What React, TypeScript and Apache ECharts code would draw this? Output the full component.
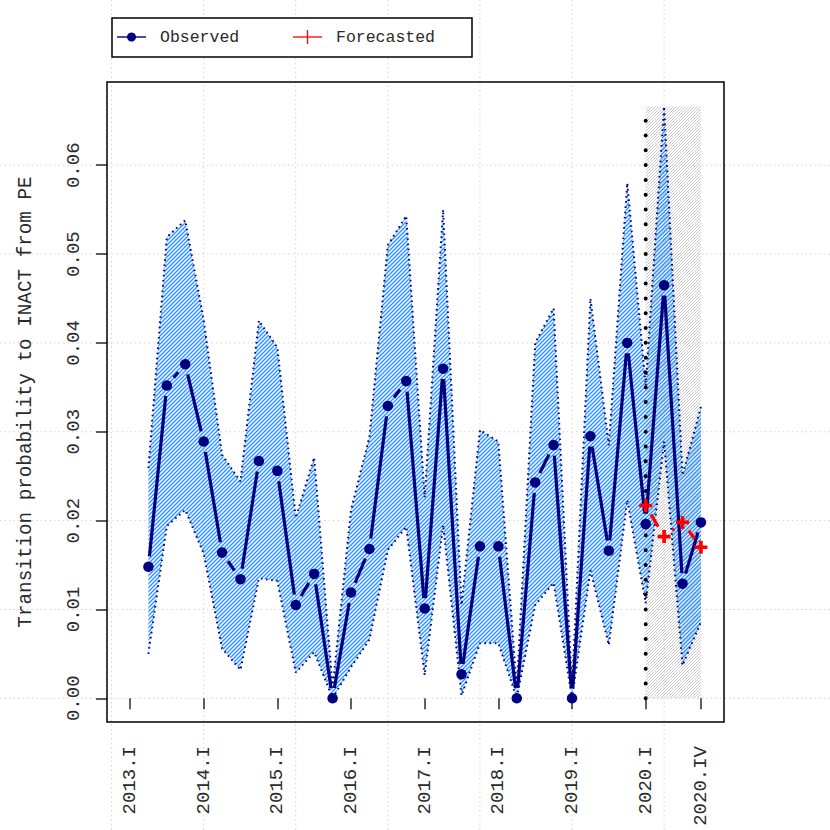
import React, { useEffect, useRef } from "react";
import * as echarts from "echarts";

// ---------- data ----------
const periods = [
  "2013.II", "2013.III", "2013.IV",
  "2014.I", "2014.II", "2014.III", "2014.IV",
  "2015.I", "2015.II", "2015.III", "2015.IV",
  "2016.I", "2016.II", "2016.III", "2016.IV",
  "2017.I", "2017.II", "2017.III", "2017.IV",
  "2018.I", "2018.II", "2018.III", "2018.IV",
  "2019.I", "2019.II", "2019.III", "2019.IV",
  "2020.I", "2020.II", "2020.III", "2020.IV",
];
const observed = [
  0.0148, 0.0352, 0.0376,
  0.0289, 0.0164, 0.0134, 0.0267,
  0.0256, 0.0105, 0.0140, 0.0,
  0.0119, 0.0168, 0.0329, 0.0357,
  0.0101, 0.0371, 0.0027, 0.0171,
  0.0171, 0.0, 0.0243, 0.0285,
  0.0, 0.0295, 0.0166, 0.0400,
  0.0196, 0.0465, 0.0129, 0.0198,
];
const upper = [
  0.0259, 0.0519, 0.0538,
  0.0426, 0.0274, 0.0244, 0.0425,
  0.0395, 0.0203, 0.0271, 0.0012,
  0.0212, 0.0294, 0.0510, 0.0543,
  0.0226, 0.0550, 0.0105, 0.0302,
  0.0289, 0.0012, 0.0400, 0.0439,
  0.0012, 0.0450, 0.0285, 0.0580,
  0.0352, 0.0666, 0.0251, 0.0328,
];
const lower = [
  0.0050, 0.0194, 0.0212,
  0.0163, 0.0056, 0.0032, 0.0135,
  0.0132, 0.0029, 0.0052, 0.0,
  0.0035, 0.0066, 0.0167, 0.0193,
  0.0026, 0.0195, 0.0003, 0.0062,
  0.0062, 0.0, 0.0105, 0.0130,
  0.0, 0.0144, 0.0060, 0.0223,
  0.0107, 0.0289, 0.0037, 0.0086,
];
const forecastPeriods = ["2020.I", "2020.II", "2020.III", "2020.IV"];
const forecast = [0.0217, 0.0182, 0.0198, 0.0170];

const xTickLabels = [
  "2013.I", "2014.I", "2015.I", "2016.I", "2017.I", "2018.I", "2019.I", "2020.I", "2020.IV",
];
const gridPeriods = ["2012.IV", "2014.I", "2015.II", "2016.III", "2017.IV", "2019.I", "2020.II"];
const yTicks = [0, 0.01, 0.02, 0.03, 0.04, 0.05, 0.06];
const forecastRegion = { from: "2020.I", to: "2020.IV" };

const yTitle = "Transition probability to INACT from PE";

// ---------- helpers ----------
const ROMAN = ["I", "II", "III", "IV"];
const toX = (p: string) => {
  const [y, q] = p.split(".");
  return Number(y) + ROMAN.indexOf(q) / 4;
};

const X_MIN = 2012.688;
const X_MAX = 2021.063;
const Y_MIN = -0.00267;
const Y_MAX = 0.06937;

const FONT = "'Liberation Mono', 'DejaVu Sans Mono', monospace";
const NAVY = "#000080";
const RED = "#ff0000";
const TEXT = "#2a2a2a";

function hatch(color: string, size: number, width: number) {
  const c = document.createElement("canvas");
  c.width = size;
  c.height = size;
  const ctx = c.getContext("2d")!;
  ctx.strokeStyle = color;
  ctx.lineWidth = width;
  ctx.beginPath();
  ctx.moveTo(-1, 1);
  ctx.lineTo(1, -1);
  ctx.moveTo(0, size);
  ctx.lineTo(size, 0);
  ctx.moveTo(size - 1, size + 1);
  ctx.lineTo(size + 1, size - 1);
  ctx.stroke();
  return { image: c, repeat: "repeat", imageWidth: size, imageHeight: size } as any;
}

function gapSegment(p0: number[], p1: number[], gap: number) {
  const dx = p1[0] - p0[0];
  const dy = p1[1] - p0[1];
  const len = Math.sqrt(dx * dx + dy * dy);
  if (len <= 2 * gap) return null;
  const ux = dx / len;
  const uy = dy / len;
  return {
    x1: p0[0] + ux * gap,
    y1: p0[1] + uy * gap,
    x2: p1[0] - ux * gap,
    y2: p1[1] - uy * gap,
  };
}

export default function App() {
  const ref = useRef<HTMLDivElement>(null);

  useEffect(() => {
    if (!ref.current) return;
    const chart = echarts.init(ref.current, null, { renderer: "svg" });

    const xs = periods.map(toX);
    const fxs = forecastPeriods.map(toX);
    const xTickVals = xTickLabels.map(toX);
    const rectTop = Math.max(...upper);

    const obsPairs = observed.slice(0, -1).map((v, i) => [xs[i], v, xs[i + 1], observed[i + 1]]);
    const fcPairs = forecast.slice(0, -1).map((v, i) => [fxs[i], v, fxs[i + 1], forecast[i + 1]]);

    const blueHatch = hatch("#2f95f5", 4, 1.4);
    const grayHatch = hatch("#bdbdbd", 3, 0.8);

    const option: any = {
      animation: false,
      backgroundColor: "#ffffff",
      grid: {
        left: 107,
        top: 82,
        right: 106,
        bottom: 108,
        show: true,
        borderColor: "#000000",
        borderWidth: 1.5,
        backgroundColor: "transparent",
        z: 10,
      },
      xAxis: {
        type: "value",
        min: X_MIN,
        max: X_MAX,
        axisLine: { show: false },
        splitLine: { show: false },
        axisTick: {
          show: true,
          length: 11,
          customValues: xTickVals,
          lineStyle: { color: TEXT, width: 1.5 },
        },
        axisLabel: {
          show: true,
          rotate: 90,
          margin: 24,
          customValues: xTickVals,
          formatter: (v: number) => {
            let best = 0;
            xTickVals.forEach((t, i) => {
              if (Math.abs(t - v) < Math.abs(xTickVals[best] - v)) best = i;
            });
            return xTickLabels[best];
          },
          fontFamily: FONT,
          fontSize: 19,
          color: TEXT,
        },
      },
      yAxis: {
        type: "value",
        min: Y_MIN,
        max: Y_MAX,
        axisLine: { show: false },
        splitLine: { show: false },
        name: yTitle,
        nameLocation: "middle",
        nameGap: 72,
        nameRotate: 90,
        nameTextStyle: { fontFamily: FONT, fontSize: 19.3, color: TEXT },
        axisTick: {
          show: true,
          length: 11,
          customValues: yTicks,
          lineStyle: { color: TEXT, width: 1.5 },
        },
        axisLabel: {
          show: true,
          rotate: 90,
          margin: 24,
          customValues: yTicks,
          formatter: (v: number) => v.toFixed(2),
          fontFamily: FONT,
          fontSize: 19,
          color: TEXT,
        },
      },
      series: [
        {
          // forecast region shading
          type: "custom",
          z: 1,
          silent: true,
          data: [[toX(forecastRegion.from), 0, toX(forecastRegion.to), rectTop]],
          encode: { x: [0, 2], y: [1, 3] },
          renderItem: (params: any, api: any) => {
            const a = api.coord([api.value(0), api.value(3)]);
            const b = api.coord([api.value(2), api.value(1)]);
            return {
              type: "rect",
              shape: { x: a[0], y: a[1], width: b[0] - a[0], height: b[1] - a[1] },
              style: { fill: grayHatch, stroke: null },
            };
          },
        },
        {
          // confidence band fill
          type: "custom",
          z: 2,
          silent: true,
          data: [[xs[0], 0]],
          renderItem: (params: any, api: any) => {
            const pts: number[][] = [];
            xs.forEach((x, i) => pts.push(api.coord([x, upper[i]])));
            for (let i = xs.length - 1; i >= 0; i--) pts.push(api.coord([xs[i], lower[i]]));
            return {
              type: "polygon",
              shape: { points: pts },
              style: { fill: blueHatch, stroke: null },
            };
          },
        },
        {
          name: "upper",
          type: "line",
          z: 3,
          silent: true,
          showSymbol: false,
          data: xs.map((x, i) => [x, upper[i]]),
          lineStyle: { color: NAVY, width: 2, type: [1.6, 3.6] },
        },
        {
          name: "lower",
          type: "line",
          z: 3,
          silent: true,
          showSymbol: false,
          data: xs.map((x, i) => [x, lower[i]]),
          lineStyle: { color: NAVY, width: 2, type: [1.6, 3.6] },
        },
        {
          // forecast start marker line
          type: "custom",
          z: 4,
          silent: true,
          data: [[toX(forecastRegion.from), 0, rectTop]],
          encode: { x: 0, y: [1, 2] },
          renderItem: (params: any, api: any) => {
            const a = api.coord([api.value(0), api.value(1)]);
            const b = api.coord([api.value(0), api.value(2)]);
            return {
              type: "line",
              shape: { x1: a[0], y1: a[1], x2: b[0], y2: b[1] },
              style: { stroke: "#000", lineWidth: 4, lineDash: [0.01, 14.8], lineCap: "round" },
            };
          },
        },
        {
          name: "Observed line",
          type: "custom",
          z: 5,
          silent: true,
          data: obsPairs,
          encode: { x: [0, 2], y: [1, 3] },
          renderItem: (params: any, api: any) => {
            const p0 = api.coord([api.value(0), api.value(1)]);
            const p1 = api.coord([api.value(2), api.value(3)]);
            const s = gapSegment(p0, p1, 10.5);
            if (!s) return { type: "group", children: [] };
            return {
              type: "line",
              shape: s,
              style: { stroke: NAVY, lineWidth: 3.2, lineCap: "butt" },
            };
          },
        },
        {
          name: "Observed",
          type: "scatter",
          z: 6,
          symbol: "circle",
          symbolSize: 10.5,
          itemStyle: { color: NAVY, opacity: 1 },
          data: xs.map((x, i) => [x, observed[i]]),
        },
        {
          name: "Forecasted line",
          type: "custom",
          z: 5,
          silent: true,
          data: fcPairs,
          encode: { x: [0, 2], y: [1, 3] },
          renderItem: (params: any, api: any) => {
            const p0 = api.coord([api.value(0), api.value(1)]);
            const p1 = api.coord([api.value(2), api.value(3)]);
            const s = gapSegment(p0, p1, 10.5);
            if (!s) return { type: "group", children: [] };
            return {
              type: "line",
              shape: s,
              style: { stroke: RED, lineWidth: 3.2, lineDash: [14, 8], lineCap: "butt" },
            };
          },
        },
        {
          name: "Forecasted",
          type: "scatter",
          z: 6,
          symbol: "path://M3.6,0H6.4V3.6H10V6.4H6.4V10H3.6V6.4H0V3.6H3.6Z",
          symbolSize: 13,
          itemStyle: { color: RED, opacity: 1 },
          data: fxs.map((x, i) => [x, forecast[i]]),
        },
      ],
    };

    chart.setOption(option);

    // full-figure dotted grid lines (R grid drawn across the device) + legend box
    const W = 830;
    const H = 830;
    const gridEls: any[] = [];
    yTicks.forEach((v) => {
      const y = chart.convertToPixel({ gridIndex: 0 }, [X_MIN, v])[1];
      gridEls.push({
        type: "line",
        z: 0,
        silent: true,
        shape: { x1: 0, y1: y, x2: W, y2: y },
        style: { stroke: "#d3d3d3", lineWidth: 1, lineDash: [1.5, 3] },
      });
    });
    gridPeriods.forEach((p) => {
      const x = chart.convertToPixel({ gridIndex: 0 }, [toX(p), 0])[0];
      gridEls.push({
        type: "line",
        z: 0,
        silent: true,
        shape: { x1: x, y1: 0, x2: x, y2: H },
        style: { stroke: "#d3d3d3", lineWidth: 1, lineDash: [1.5, 3] },
      });
    });

    const legendEls: any[] = [
      {
        type: "rect",
        z: 50,
        shape: { x: 112, y: 18, width: 360, height: 39 },
        style: { fill: "#fff", stroke: "#000", lineWidth: 1.5 },
      },
      {
        type: "line",
        z: 51,
        shape: { x1: 117, y1: 37, x2: 146, y2: 37 },
        style: { stroke: NAVY, lineWidth: 1.4 },
      },
      {
        type: "circle",
        z: 52,
        shape: { cx: 131.5, cy: 37, r: 4.5 },
        style: { fill: NAVY },
      },
      {
        type: "text",
        z: 52,
        x: 160,
        y: 37,
        style: {
          text: "Observed",
          fontFamily: FONT,
          fontSize: 16.5,
          fill: TEXT,
          verticalAlign: "middle",
          align: "left",
        },
      },
      {
        type: "line",
        z: 51,
        shape: { x1: 293, y1: 37, x2: 322, y2: 37 },
        style: { stroke: RED, lineWidth: 1.3 },
      },
      {
        type: "line",
        z: 51,
        shape: { x1: 307.5, y1: 30, x2: 307.5, y2: 44 },
        style: { stroke: RED, lineWidth: 1.3 },
      },
      {
        type: "text",
        z: 52,
        x: 336,
        y: 37,
        style: {
          text: "Forecasted",
          fontFamily: FONT,
          fontSize: 16.5,
          fill: TEXT,
          verticalAlign: "middle",
          align: "left",
        },
      },
    ];

    chart.setOption({ graphic: { elements: [...gridEls, ...legendEls] } });

    return () => chart.dispose();
  }, []);

  return (
    <div
      ref={ref}
      style={{ position: "fixed", left: 0, top: 0, width: 830, height: 830, background: "#fff" }}
    />
  );
}
